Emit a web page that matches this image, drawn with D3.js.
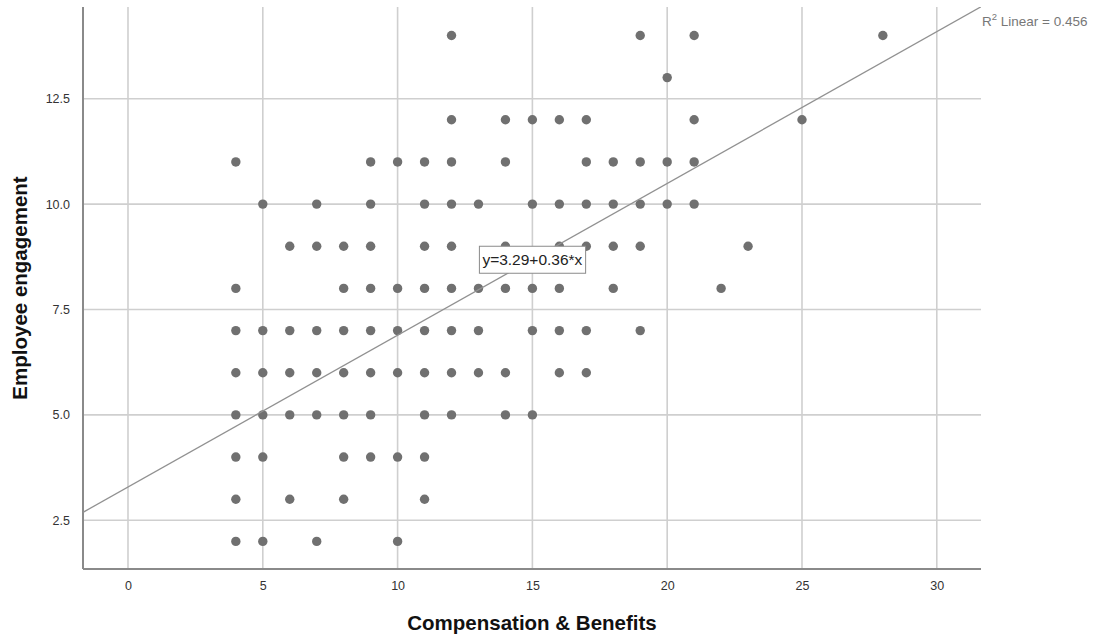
<!DOCTYPE html>
<html>
<head>
<meta charset="utf-8">
<script src="https://cdn.jsdelivr.net/npm/d3@7"></script>
<style>
  html, body { margin: 0; padding: 0; background: #fff; }
  svg { display: block; font-family: "Liberation Sans", Arial, sans-serif; }
</style>
</head>
<body>
<svg id="chart" width="1096" height="636"></svg>
<script>
// ---- Data ----
// Employee engagement values (y) for each row, with the Compensation & Benefits values (x) present
const yLevels = [14, 13, 12, 11, 10, 9, 8, 7, 6, 5, 4, 3, 2];
const xAtY14 = [12, 19, 21, 28];
const xAtY13 = [20];
const xAtY12 = [12, 14, 15, 16, 17, 21, 25];
const xAtY11 = [4, 9, 10, 11, 12, 14, 17, 18, 19, 20, 21];
const xAtY10 = [5, 7, 9, 11, 12, 13, 15, 16, 17, 18, 19, 20, 21];
const xAtY9  = [6, 7, 8, 9, 11, 12, 14, 16, 17, 18, 19, 23];
const xAtY8  = [4, 8, 9, 10, 11, 12, 13, 14, 15, 16, 18, 22];
const xAtY7  = [4, 5, 6, 7, 8, 9, 10, 11, 12, 13, 15, 16, 17, 19];
const xAtY6  = [4, 5, 6, 7, 8, 9, 10, 11, 12, 13, 14, 16, 17];
const xAtY5  = [4, 5, 6, 7, 8, 9, 11, 12, 14, 15];
const xAtY4  = [4, 5, 8, 9, 10, 11];
const xAtY3  = [4, 6, 8, 11];
const xAtY2  = [4, 5, 7, 10];
const rows = [xAtY14, xAtY13, xAtY12, xAtY11, xAtY10, xAtY9, xAtY8, xAtY7, xAtY6, xAtY5, xAtY4, xAtY3, xAtY2];

const xTicks = [0, 5, 10, 15, 20, 25, 30];
const yTicks = [2.5, 5.0, 7.5, 10.0, 12.5];
const intercept = 3.29;
const slope = 0.36;
const r2 = 0.456;
const xTitle = "Compensation & Benefits";
const yTitle = "Employee engagement";
const eqLabelPos = [15, 8.68];

const points = [];
rows.forEach((xs, i) => xs.forEach(xv => points.push({ x: xv, y: yLevels[i] })));

// ---- Layout ----
const pL = 83, pR = 981, pT = 7, pB = 569;
const x = d3.scaleLinear().domain([-1.669, 31.64]).range([pL, pR]);
const y = d3.scaleLinear().domain([1.345, 14.675]).range([pB, pT]);

const svg = d3.select("#chart");

// clip
svg.append("defs").append("clipPath").attr("id", "plotclip")
  .append("rect").attr("x", pL).attr("y", pT).attr("width", pR - pL).attr("height", pB - pT);

// grid lines
const grid = svg.append("g");
grid.selectAll("line.vg").data(xTicks).enter().append("line")
  .attr("x1", d => x(d)).attr("x2", d => x(d))
  .attr("y1", pT).attr("y2", pB)
  .attr("stroke", "#cfcfcf").attr("stroke-width", 1.6);
grid.selectAll("line.hg").data(yTicks).enter().append("line")
  .attr("x1", pL).attr("x2", pR)
  .attr("y1", d => y(d)).attr("y2", d => y(d))
  .attr("stroke", "#cfcfcf").attr("stroke-width", 1.6);

// axes
const xAxis = d3.axisBottom(x).tickValues(xTicks).tickSize(0).tickPadding(12).tickFormat(d3.format("d"));
const yAxis = d3.axisLeft(y).tickValues(yTicks).tickSize(0).tickPadding(13).tickFormat(d3.format(".1f"));

const gx = svg.append("g").attr("transform", `translate(0,${pB})`).call(xAxis);
const gy = svg.append("g").attr("transform", `translate(${pL},0)`).call(yAxis);
[gx, gy].forEach(g => {
  g.select(".domain").remove();
  g.selectAll("text").attr("font-size", 12.5).attr("fill", "#333")
    .attr("font-family", "'Liberation Sans', Arial, sans-serif");
});

svg.append("line").attr("x1", pL).attr("x2", pL).attr("y1", pT).attr("y2", pB)
  .attr("stroke", "#8a8a8a").attr("stroke-width", 2);
svg.append("line").attr("x1", pL).attr("x2", pR).attr("y1", pB).attr("y2", pB)
  .attr("stroke", "#8a8a8a").attr("stroke-width", 2);

// points
svg.append("g").selectAll("circle").data(points).enter().append("circle")
  .attr("cx", d => x(d.x)).attr("cy", d => y(d.y)).attr("r", 4.7)
  .attr("fill", "#707070");

// regression line
const xd = x.domain();
svg.append("line").attr("clip-path", "url(#plotclip)")
  .attr("x1", x(xd[0])).attr("y1", y(intercept + slope * xd[0]))
  .attr("x2", x(xd[1])).attr("y2", y(intercept + slope * xd[1]))
  .attr("stroke", "#919191").attr("stroke-width", 1.3);

// equation label
const eqText = `y=${intercept.toFixed(2)}+${slope.toFixed(2)}*x`;
const eg = svg.append("g");
const et = eg.append("text")
  .attr("x", x(eqLabelPos[0])).attr("y", y(eqLabelPos[1]))
  .attr("text-anchor", "middle").attr("dominant-baseline", "central")
  .attr("font-size", 15.5).attr("fill", "#222").text(eqText);
const bb = et.node().getBBox();
eg.insert("rect", "text")
  .attr("x", bb.x - 3).attr("y", y(eqLabelPos[1]) - 13.5)
  .attr("width", bb.width + 6).attr("height", 27)
  .attr("fill", "#fff").attr("stroke", "#8a8a8a").attr("stroke-width", 1);

// R2 label
const r2t = svg.append("text").attr("x", pR + 1).attr("y", 26)
  .attr("font-size", 13.5).attr("fill", "#777");
r2t.append("tspan").text("R");
r2t.append("tspan").attr("font-size", 9.5).attr("dy", -6).text("2");
r2t.append("tspan").attr("dy", 6).text(` Linear = ${r2.toFixed(3)}`);

// axis titles
svg.append("text").attr("x", (pL + pR) / 2).attr("y", 630)
  .attr("text-anchor", "middle").attr("font-size", 20.5).attr("font-weight", "bold")
  .attr("fill", "#111").text(xTitle);
svg.append("text").attr("transform", `translate(27,${(pT + pB) / 2}) rotate(-90)`)
  .attr("text-anchor", "middle").attr("font-size", 20.5).attr("font-weight", "bold")
  .attr("fill", "#111").text(yTitle);
</script>
</body>
</html>
